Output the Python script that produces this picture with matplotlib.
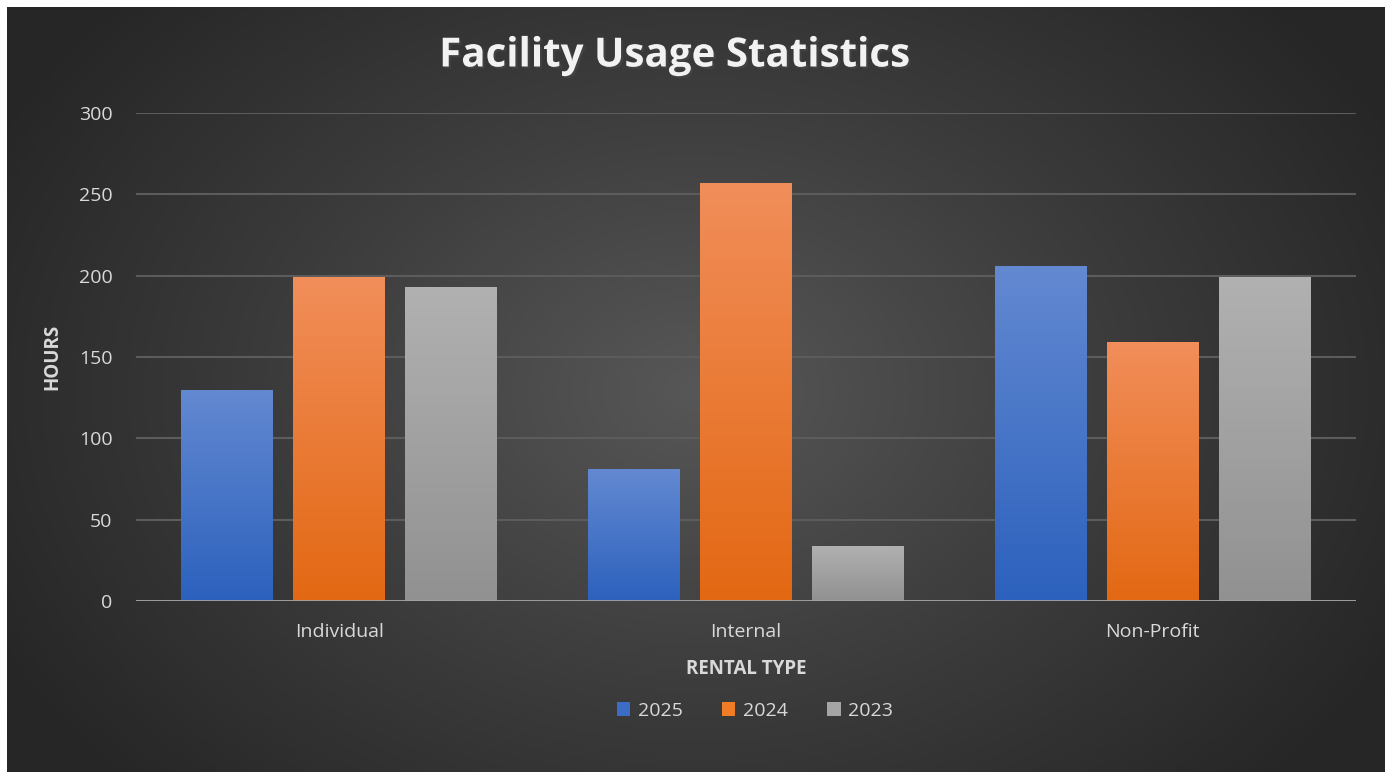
import numpy as np
import matplotlib
matplotlib.use("Agg")
import matplotlib.pyplot as plt
import matplotlib.patheffects as pe
from matplotlib.colors import LinearSegmentedColormap
from matplotlib.patches import Patch

# ==============================
# DATA
# ==============================
categories = ["Individual", "Internal", "Non-Profit"]
years = ["2025", "2024", "2023"]
hours_2025 = [130, 81, 206]
hours_2024 = [199, 257, 159]
hours_2023 = [193, 34, 199]
y_ticks = [0, 50, 100, 150, 200, 250, 300]

# ==============================
# STYLE
# ==============================
FONT = "Open Sans"
TEXT_COLOR = "#d9d9d9"
# (top colour, bottom colour) of each series' gradient
GRADIENTS = [("#6389d1", "#2c61bd"), ("#f18e5a", "#e36813"), ("#b1b1b1", "#919191")]
SOLID = ["#3d6cc6", "#f07c26", "#a5a5a5"]

W, H = 1385, 772


def main():
    fig = plt.figure(figsize=(W / 100, H / 100), dpi=100, facecolor="white")

    # ------------------------------
    # radial background
    # ------------------------------
    bg = fig.add_axes([7 / W, 0, 1 - 7 / W, 1 - 7 / H], zorder=-5)
    yy, xx = np.mgrid[0:1:400j, 0:1:700j]
    r = np.sqrt(((xx - 0.5) * 1.25) ** 2 + ((yy - 0.5) * 0.95) ** 2)
    r = np.clip(r / 0.72, 0, 1)
    bg_cmap = LinearSegmentedColormap.from_list("bg", ["#575757", "#3d3d3d", "#262626"])
    bg.imshow(r, cmap=bg_cmap, aspect="auto", extent=(0, 1, 0, 1), vmin=0, vmax=1)
    bg.axis("off")

    # ------------------------------
    # bars
    # ------------------------------
    ax = fig.add_axes([136 / W, 171 / H, 1220 / W, 488 / H])
    ax.set_facecolor("none")

    x = np.arange(len(categories))
    width = 0.226
    step = 0.2755
    series = [hours_2025, hours_2024, hours_2023]

    grad = np.linspace(1, 0, 256).reshape(-1, 1)
    for i, vals in enumerate(series):
        bars = ax.bar(x + (i - 1) * step, vals, width, color=SOLID[i], zorder=3,
                      linewidth=0)
        cmap = LinearSegmentedColormap.from_list("g%d" % i, [GRADIENTS[i][1], GRADIENTS[i][0]])
        for b in bars:
            b.set_path_effects([pe.SimplePatchShadow(offset=(0, 0), shadow_rgbFace="black",
                                                      alpha=0.35), pe.Normal()])
            x0, h = b.get_x(), b.get_height()
            im = ax.imshow(grad, cmap=cmap, aspect="auto", zorder=4,
                           extent=(x0, x0 + b.get_width(), 0, h), vmin=0, vmax=1)
            im.set_clip_path(b)

    ax.set_xlim(-0.5, 2.5)
    ax.set_ylim(0, 300)
    ax.set_yticks(y_ticks)
    ax.set_xticks(x)
    ax.set_xticklabels(categories)

    ax.grid(axis="y", color="#5c5c5c", linewidth=1.5, zorder=0)
    ax.axhline(0, color="#a3a3a3", linewidth=2, zorder=6)
    for s in ax.spines.values():
        s.set_visible(False)
    ax.tick_params(length=0, labelsize=14, colors=TEXT_COLOR)
    for lab in ax.get_xticklabels() + ax.get_yticklabels():
        lab.set_fontfamily(FONT)
    ax.tick_params(axis="x", pad=16)
    ax.tick_params(axis="y", pad=17)

    ax.set_ylabel("HOURS", fontsize=13.5, fontweight="bold", color=TEXT_COLOR,
                  fontfamily=FONT, labelpad=12)
    ax.set_xlabel("RENTAL TYPE", fontsize=13.5, fontweight="bold", color=TEXT_COLOR,
                  fontfamily=FONT, labelpad=13)

    # ------------------------------
    # title + legend
    # ------------------------------
    fig.text(674 / W, 1 - 56 / H, "Facility Usage Statistics", ha="center", va="center",
             fontsize=29, fontweight="bold", color="#f2f2f2", fontfamily=FONT,
             path_effects=[pe.SimplePatchShadow(offset=(1.5, -1.5), alpha=0.6), pe.Normal()])

    handles = [Patch(facecolor=SOLID[i], edgecolor="none") for i in range(3)]
    fig.legend(handles, years, loc="center", bbox_to_anchor=(755 / W, 1 - 711 / H),
               ncol=3, frameon=False, labelcolor=TEXT_COLOR, handlelength=0.7,
               handleheight=0.7, handletextpad=0.4, columnspacing=2.0,
               prop={"family": FONT, "size": 14})

    fig.savefig("out.png", dpi=100, facecolor="white")
    plt.close(fig)


if __name__ == "__main__":
    main()
